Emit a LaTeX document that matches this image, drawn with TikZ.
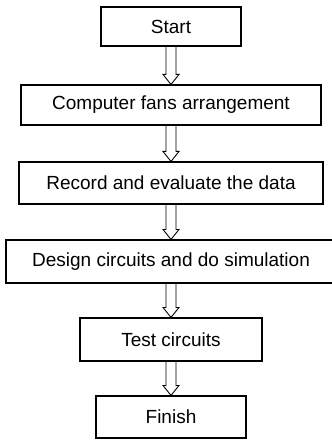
\documentclass[tikz,border=0pt]{standalone}
\usepackage{fontspec}
\setmainfont{Liberation Sans}
\usetikzlibrary{calc}
\tikzset{
	stepbox/.style={draw, line width=1.1pt, inner sep=0pt, font=\fontsize{19}{22}\selectfont},
	hollow/.style={line width=0.9pt, line join=miter, to path={
		($(\tikztostart)+(-5pt,0)$) -- ($(\tikztotarget)+(-5pt,10pt)$) -- ($(\tikztotarget)+(-8pt,10pt)$) -- (\tikztotarget)
		-- ($(\tikztotarget)+(8pt,10pt)$) -- ($(\tikztotarget)+(5pt,10pt)$) -- ($(\tikztostart)+(5pt,0)$)}}
}
\begin{document}
\begin{tikzpicture}[x=1pt,y=1pt]
	\useasboundingbox (0,0) rectangle (331,-443);
	\node[stepbox, minimum width=140pt, minimum height=39pt] (start) at (171,-26.5) {Start};
	\node[stepbox, minimum width=300pt, minimum height=40pt] (fans) at (171,-105) {Computer fans arrangement};
	\node[stepbox, minimum width=304pt, minimum height=42pt] (record) at (171,-183) {Record and evaluate the data};
	\node[stepbox, minimum width=330pt, minimum height=43pt] (design) at (171,-261.5) {Design circuits and do simulation};
	\node[stepbox, minimum width=182pt, minimum height=43pt] (test) at (171,-339.5) {Test circuits};
	\node[stepbox, minimum width=150pt, minimum height=42pt] (finish) at (171,-417) {Finish};
	% arrows
	\draw[hollow] (start.south) to (fans.north);
	\draw[hollow] (fans.south) to (record.north);
	\draw[hollow] (record.south) to (design.north);
	\draw[hollow] (design.south) to (test.north);
	\draw[hollow] (test.south) to (finish.north);
\end{tikzpicture}
\end{document}
